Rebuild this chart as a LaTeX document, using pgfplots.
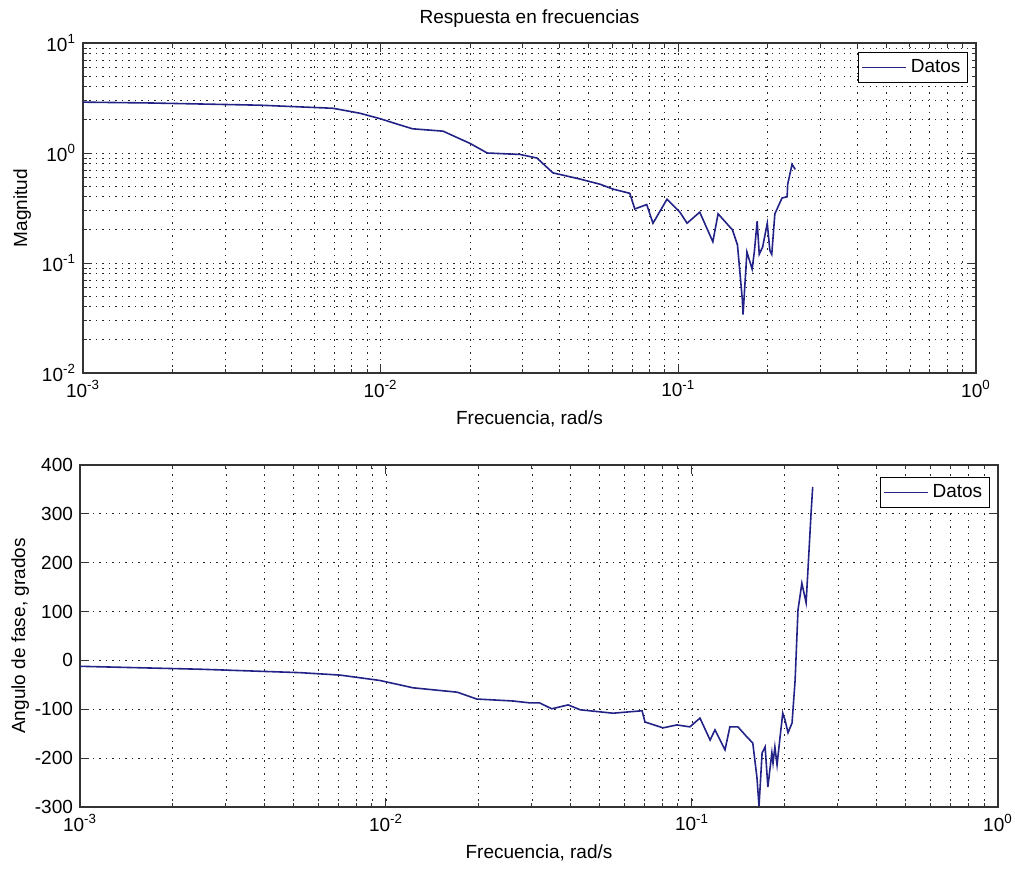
\documentclass[border=0pt]{standalone}
\usepackage{pgfplots}
\pgfplotsset{compat=1.18}
\usepackage{fontspec}
\setmainfont{Liberation Sans}

\definecolor{datos}{RGB}{35,35,135}

\pgfplotsset{
  scale only axis,
  xmin=1e-3, xmax=1,
  grid=both,
  major grid style={black!85, line width=0.45pt, dash pattern=on 0.55pt off 2.7pt},
  minor grid style={black!85, line width=0.45pt, dash pattern=on 0.55pt off 2.7pt},
  axis line style={black!80, line width=0.6pt},
  major tick length=4.5pt,
  minor tick length=2.2pt,
  every tick/.style={black!80, line width=0.5pt},
  tick label style={font=\fontsize{9.5}{11}\selectfont},
  label style={font=\fontsize{9.5}{11}\selectfont},
  title style={font=\fontsize{9.5}{11}\selectfont},
  legend style={font=\fontsize{9.5}{11}\selectfont, draw=black, line width=0.5pt,
                inner sep=1.5pt, anchor=north east},
  legend image code/.code={\draw[#1] (0pt,0pt) -- (22pt,0pt);},
}

\begin{document}
\begin{tikzpicture}
\useasboundingbox (0,0) rectangle (507.5pt,-434pt);

% magnitud
\begin{axis}[
  at={(41.5pt,-21.5pt)}, anchor=north west,
  width=446.5pt, height=165pt,
  xmode=log, ymode=log,
  xtick={1e-3,1e-2,1e-1,1},
  xticklabels={10\textsuperscript{-3},10\textsuperscript{-2},10\textsuperscript{-1},10\textsuperscript{0}},
  minor xtick={2e-3,3e-3,4e-3,5e-3,6e-3,7e-3,8e-3,9e-3,
               2e-2,3e-2,4e-2,5e-2,6e-2,7e-2,8e-2,9e-2,
               0.2,0.3,0.4,0.5,0.6,0.7,0.8,0.9},
  ymin=1e-2, ymax=10,
  ytick={1e-2,1e-1,1,10},
  yticklabels={10\textsuperscript{-2},10\textsuperscript{-1},10\textsuperscript{0},10\textsuperscript{1}},
  minor ytick={0.02,0.03,0.04,0.05,0.06,0.07,0.08,0.09,
               0.2,0.3,0.4,0.5,0.6,0.7,0.8,0.9,
               2,3,4,5,6,7,8,9},
  title={Respuesta en frecuencias},
  title style={yshift=-2pt},
  xlabel={Frecuencia, rad/s},
  ylabel={Magnitud},
  ylabel style={at={(axis description cs:-0.068,0.5)}, anchor=center},
  legend style={at={(axis description cs:0.991,0.973)}},
]
\addplot[datos, line width=0.8pt] coordinates {
(1e-3,2.9) (1.68e-3,2.85) (3.94e-3,2.72) (6.92e-3,2.55) (8.51e-3,2.3)
(9.96e-3,2.05) (0.0116,1.8) (0.0128,1.66) (0.0162,1.58) (0.0200,1.22)
(0.0228,1.0) (0.0294,0.97) (0.0335,0.9) (0.0379,0.66) (0.0467,0.58)
(0.0546,0.52) (0.0603,0.47) (0.0687,0.43) (0.0714,0.31) (0.0783,0.34)
(0.0822,0.23) (0.0916,0.38) (0.1012,0.29) (0.107,0.23) (0.118,0.29)
(0.1306,0.156) (0.136,0.28) (0.152,0.20) (0.158,0.146) (0.164,0.047)
(0.165,0.034) (0.170,0.126) (0.177,0.088) (0.180,0.126) (0.184,0.24)
(0.187,0.12) (0.192,0.14) (0.199,0.23) (0.203,0.13) (0.206,0.12)
(0.211,0.28) (0.223,0.39) (0.232,0.40) (0.233,0.52) (0.241,0.79)
(0.247,0.71)
};
\legend{Datos}
\end{axis}

% fase
\begin{axis}[
  at={(40pt,-232.5pt)}, anchor=north west,
  width=459pt, height=171pt,
  xmode=log,
  xtick={1e-3,1e-2,1e-1,1},
  xticklabels={10\textsuperscript{-3},10\textsuperscript{-2},10\textsuperscript{-1},10\textsuperscript{0}},
  minor xtick={2e-3,3e-3,4e-3,5e-3,6e-3,7e-3,8e-3,9e-3,
               2e-2,3e-2,4e-2,5e-2,6e-2,7e-2,8e-2,9e-2,
               0.2,0.3,0.4,0.5,0.6,0.7,0.8,0.9},
  ymin=-300, ymax=400,
  ytick={-300,-200,-100,0,100,200,300,400},
  yticklabels={-300,-200,-100,0,100,200,300,400},
  minor ytick={},
  yminorgrids=false,
  xlabel={Frecuencia, rad/s},
  ylabel={Angulo de fase, grados},
  ylabel style={at={(axis description cs:-0.065,0.5)}, anchor=center},
  legend style={at={(axis description cs:0.991,0.965)}},
]
\addplot[datos, line width=0.8pt] coordinates {
(1e-3,-12) (2.47e-3,-18) (5.24e-3,-25) (7.08e-3,-30) (9.55e-3,-41)
(0.01225,-56) (0.0171,-65) (0.0198,-79) (0.0260,-83) (0.0296,-87)
(0.0318,-87) (0.0348,-99) (0.0394,-91) (0.0431,-101) (0.0552,-108)
(0.0687,-103) (0.0702,-126) (0.0804,-138) (0.0893,-132) (0.0984,-136)
(0.1062,-118) (0.1146,-163) (0.1189,-142) (0.1282,-183) (0.133,-136)
(0.1413,-136) (0.1514,-157) (0.158,-169) (0.163,-239) (0.1656,-298)
(0.1695,-189) (0.1734,-177) (0.177,-259) (0.1824,-189) (0.184,-210)
(0.1866,-177) (0.1897,-214) (0.194,-157) (0.198,-108) (0.2014,-122)
(0.206,-148) (0.2123,-128) (0.2173,-40) (0.222,103) (0.2286,158)
(0.2323,138) (0.236,118) (0.2393,185) (0.245,302) (0.248,355)
};
\legend{Datos}
\end{axis}
\end{tikzpicture}
\end{document}
